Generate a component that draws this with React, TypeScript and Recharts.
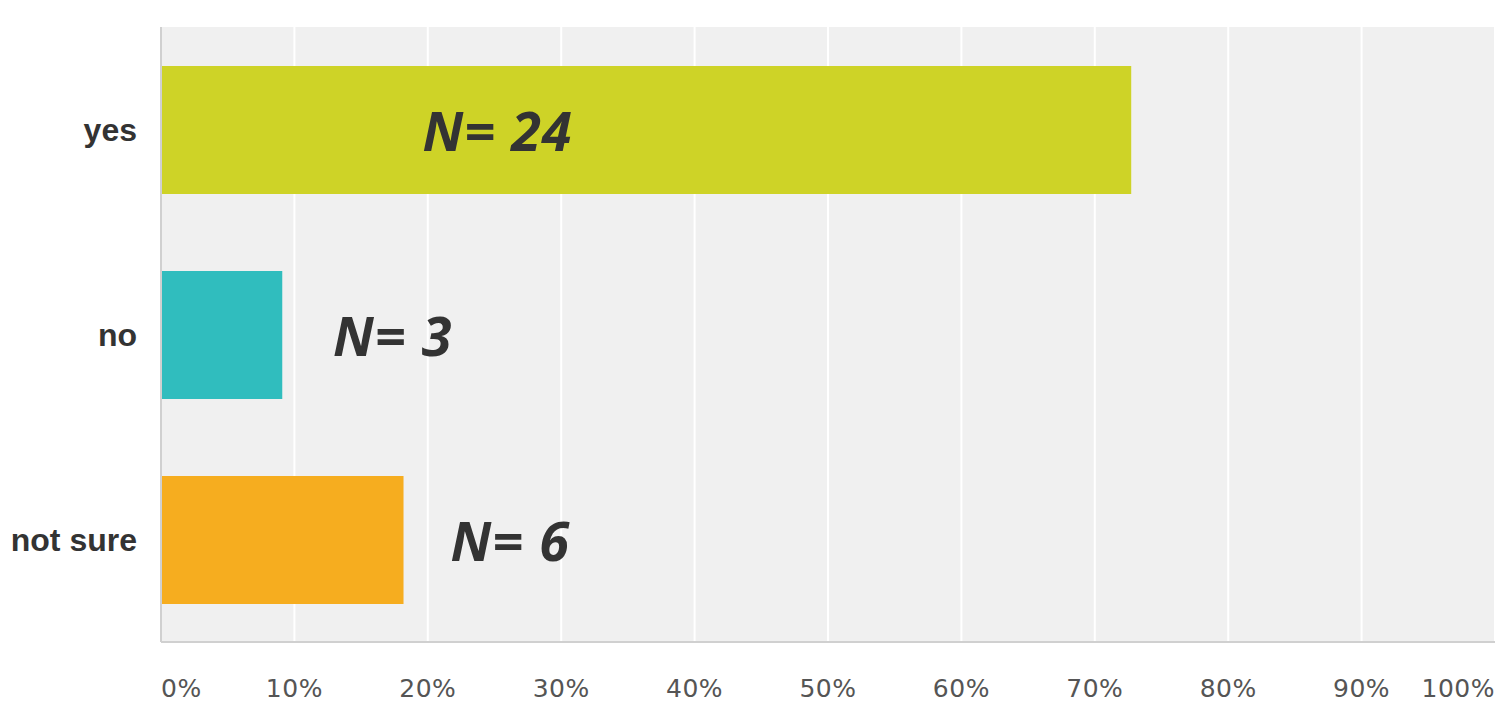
import * as React from 'react';
import { BarChart, Bar, XAxis, YAxis, CartesianGrid, Cell, LabelList } from 'recharts';

const categories = ['yes', 'no', 'not sure'];
const percents = [72.73, 9.09, 18.18];
const counts = [24, 3, 6];
const colors = ['#CED327', '#30BDBE', '#F6AD1F'];
// where each "N=" note starts, in percent along the x axis
const noteAt = [19.6, 12.9, 21.7];
const xTicks = [0, 10, 20, 30, 40, 50, 60, 70, 80, 90, 100];

const data = categories.map((name, i) => ({ name, value: percents[i], n: counts[i], note: noteAt[i] }));

const XTick = (props: any) => {
  const { x, y, payload, index } = props;
  const anchor = index === 0 ? 'start' : index === xTicks.length - 1 ? 'end' : 'middle';
  return (
    <text
      x={x}
      y={y + 46}
      textAnchor={anchor}
      dominantBaseline="central"
      fill="#555"
      fontSize={25}
      letterSpacing={0.5}
      fontFamily="DejaVu Sans, sans-serif"
    >
      {payload.value}%
    </text>
  );
};

const NoteLabel = (props: any) => {
  const { x, y, width, height, index } = props;
  const row = data[index];
  const perUnit = width / row.value;
  return (
    <text
      x={x + row.note * perUnit}
      y={y + height / 2}
      dominantBaseline="central"
      fill="#333"
      fontSize={54}
      letterSpacing={1}
      fontWeight="bold"
      fontStyle="italic"
      fontFamily="Open Sans, sans-serif"
    >
      N= {row.n}
    </text>
  );
};

export default function App() {
  return (
    <div style={{ width: 1497, height: 704, background: '#fff' }}>
      <style>{'body{margin:0}'}</style>
      <BarChart
        width={1497}
        height={704}
        data={data}
        layout="vertical"
        margin={{ top: 27, right: 2, bottom: 0, left: 0 }}
        barCategoryGap={0}
      >
        <CartesianGrid horizontal={false} stroke="#fff" strokeWidth={2} fill="#f0f0f0" />
        <XAxis
          type="number"
          domain={[0, 100]}
          ticks={xTicks}
          height={62}
          axisLine={{ stroke: '#d0d0d0', strokeWidth: 2 }}
          tickLine={false}
          tickSize={0}
          tickMargin={0}
          tick={<XTick />}
          interval={0}
        />
        <YAxis
          type="category"
          dataKey="name"
          width={161}
          axisLine={{ stroke: '#d0d0d0', strokeWidth: 2 }}
          tickLine={false}
          tickSize={0}
          tickMargin={24}
          tick={{ fill: '#333', fontSize: 32, fontWeight: 'bold', fontFamily: 'Liberation Sans, Arial, sans-serif' }}
        />
        <Bar dataKey="value" barSize={128} isAnimationActive={false}>
          {data.map((d, i) => (
            <Cell key={d.name} fill={colors[i]} />
          ))}
          <LabelList dataKey="n" content={<NoteLabel />} />
        </Bar>
      </BarChart>
    </div>
  );
}
